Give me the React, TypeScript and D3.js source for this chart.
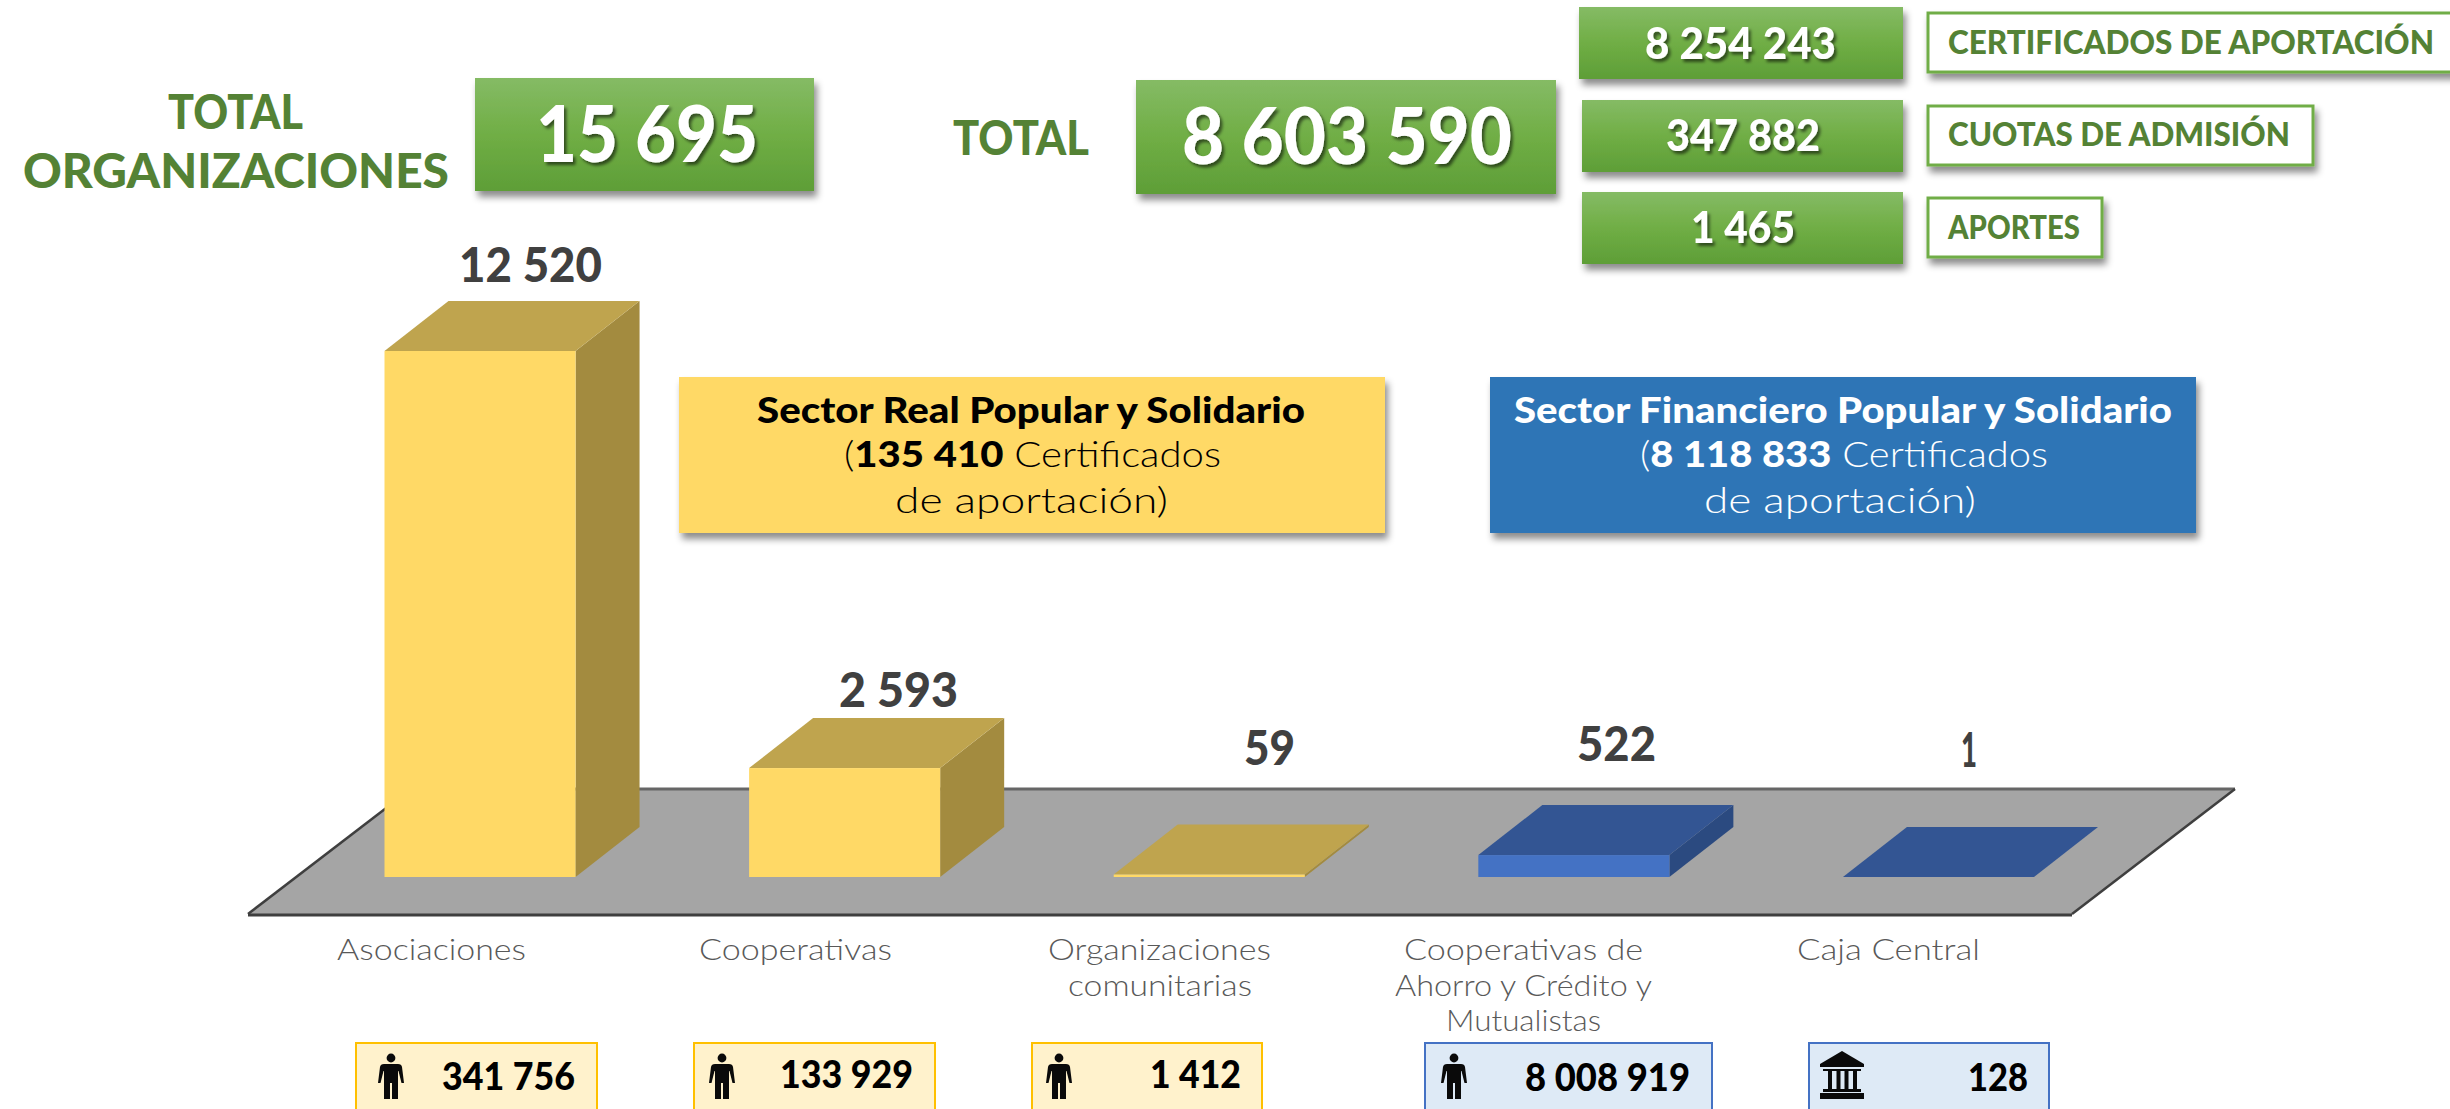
import React from "react";
import * as d3 from "d3";

// ---------- data ----------
const categories = ["Asociaciones", "Cooperativas", "Organizaciones comunitarias", "Cooperativas de Ahorro y Crédito y Mutualistas", "Caja Central"];
const orgCounts = [12520, 2593, 59, 522, 1];
const orgLabels = ["12 520", "2 593", "59", "522", "1"];
const sectors = ["real", "real", "real", "fin", "fin"];
const memberLabels = ["341 756", "133 929", "1 412", "8 008 919", "128"];
const memberIcons = ["person", "person", "person", "person", "bank"];
const categoryLines = [["Asociaciones"], ["Cooperativas"], ["Organizaciones", "comunitarias"], ["Cooperativas de", "Ahorro y Crédito y", "Mutualistas"], ["Caja Central"]];
const totals = ["15 695", "8 603 590"];
const breakdownValues = ["8 254 243", "347 882", "1 465"];
const breakdownNames = ["CERTIFICADOS DE APORTACIÓN", "CUOTAS DE ADMISIÓN", "APORTES"];

// ---------- layout ----------
const W = 2450, H = 1109;
const FONT = "Lato, 'Open Sans', sans-serif";
const x = d3.scaleBand<string>().domain(categories).range([384.5, 2034]).paddingInner(0.476).paddingOuter(0);
const y = d3.scaleLinear().domain([0, 12520]).range([877, 351]);
const DX = 64, DY = -50;
const palette: any = {
  real: { front: "#FFD966", top: "#BFA44E", side: "#A38B3F" },
  fin: { front: "#4472C4", top: "#335593", side: "#2B4A80" },
};
const valueExt = [[459, 602, 282], [839, 958, 707], [1244, 1295, 765], [1577, 1656, 761], [1961, 1977, 767]];
const catExt = [
  [[337, 526, 960]], [[699, 892, 960]],
  [[1048, 1271, 960], [1068, 1252, 996]],
  [[1404, 1643, 960], [1395, 1652, 996], [1446, 1601, 1031]],
  [[1797, 1980, 960]],
];
const pillExt = [[356, 597], [694, 935], [1032, 1262], [1425, 1712], [1809, 2049]];
const pillText = [[442, 575, 1090], [780, 913, 1088], [1150, 1241, 1088], [1525, 1690, 1091], [1968, 2028, 1091]];
const pillIcon = [391, 722, 1059, 1454, 1842];
const bdBox = [[1579, 1903, 7], [1582, 1903, 100], [1582, 1903, 192]];
const bdText = [[1645, 1836, 59], [1666, 1820, 151], [1691, 1795, 243]];
const bdName = [[1948, 2434, 54, 2458, 13], [1948, 2290, 146, 2313, 106], [1948, 2080, 239, 2102, 198]];
const bdNameLeft = 1928;

function T({ x0, x1, b, size, weight = 400, fill = "#404040", filter, children }: any) {
  return (
    <text x={x0} y={b} textLength={x1 - x0} lengthAdjust="spacingAndGlyphs" fontFamily={FONT}
      fontSize={size} fontWeight={weight} fill={fill} filter={filter}>{children}</text>
  );
}

function Person({ cx }: any) {
  return (
    <g transform={`translate(${cx},1053)`} fill="#0a0a0a">
      <circle cx={0} cy={5} r={4.4} />
      <path d="M-7 11 H7 Q10.5 11 11 14 L13 30 H10.5 L7.5 18 H7 V46 H1 V30 H-1 V46 H-7 V18 H-7.5 L-10.5 30 H-13 L-11 14 Q-10.5 11 -7 11Z" />
    </g>
  );
}

function Bank({ cx }: any) {
  const cols = [-14, -5.5, 2.5, 11];
  return (
    <g transform={`translate(${cx},1051)`} fill="#0a0a0a">
      <path d="M0 0 L22 13 V16 H-22 V13Z" />
      {cols.map((c) => <rect key={c} x={c} y={19} width={4} height={19} />)}
      <rect x={-19} y={18} width={38} height={2} />
      <rect x={-19} y={38} width={38} height={3} />
      <rect x={-22} y={42} width={44} height={6} />
    </g>
  );
}

const pts = (a: number[][]) => a.map((p) => p.join(",")).join(" ");

export default function App() {
  const bw = x.bandwidth();
  return (
    <svg width={W} height={H} viewBox={`0 0 ${W} ${H}`} style={{ position: "absolute", left: 0, top: 0, background: "#fff" }}>
      <defs>
        <linearGradient id="g" x1="0" y1="0" x2="0" y2="1">
          <stop offset="0" stopColor="#85BB65" />
          <stop offset="0.5" stopColor="#70AE45" />
          <stop offset="1" stopColor="#5E9E37" />
        </linearGradient>
        <filter id="sh" x="-10%" y="-20%" width="125%" height="150%">
          <feDropShadow dx={3} dy={6} stdDeviation={3.5} floodColor="#000" floodOpacity={0.45} />
        </filter>
        <filter id="ts" x="-10%" y="-20%" width="125%" height="150%">
          <feDropShadow dx={2.5} dy={3} stdDeviation={1.5} floodColor="#000" floodOpacity={0.55} />
        </filter>
      </defs>

      {/* headline */}
      <T x0={168} x1={303} b={129} size={48} weight={900} fill="#548235">TOTAL</T>
      <T x0={23} x1={449} b={188} size={48} weight={900} fill="#548235">ORGANIZACIONES</T>
      <rect x={475} y={78} width={339} height={113} fill="url(#g)" filter="url(#sh)" />
      <T x0={536} x1={758} b={162} size={78} weight={900} fill="#fff" filter="url(#ts)">{totals[0]}</T>
      <T x0={953} x1={1089} b={155} size={48} weight={900} fill="#548235">TOTAL</T>
      <rect x={1136} y={80} width={420} height={114} fill="url(#g)" filter="url(#sh)" />
      <T x0={1182} x1={1512} b={164} size={78} weight={900} fill="#fff" filter="url(#ts)">{totals[1]}</T>

      {/* breakdown */}
      {breakdownValues.map((v, i) => (
        <g key={v}>
          <rect x={bdBox[i][0]} y={bdBox[i][2]} width={bdBox[i][1] - bdBox[i][0]} height={72} fill="url(#g)" filter="url(#sh)" />
          <T x0={bdText[i][0]} x1={bdText[i][1]} b={bdText[i][2]} size={44} weight={900} fill="#fff" filter="url(#ts)">{v}</T>
          <rect x={bdNameLeft} y={bdName[i][4]} width={bdName[i][3] - bdNameLeft} height={59} fill="#fff" stroke="#70AD47" strokeWidth={3} filter="url(#sh)" />
          <T x0={bdName[i][0]} x1={bdName[i][1]} b={bdName[i][2]} size={32} weight={900} fill="#548235">{breakdownNames[i]}</T>
        </g>
      ))}

      {/* floor */}
      <polygon points={pts([[411, 789], [2235, 789], [2072, 914], [248, 914]])} fill="#A5A5A5" />
      <line x1={411} y1={789} x2={2235} y2={789} stroke="#666" strokeWidth={3} />
      <line x1={248} y1={915} x2={2072} y2={915} stroke="#3f3f3f" strokeWidth={3} />
      <line x1={248} y1={914} x2={411} y2={789} stroke="#3f3f3f" strokeWidth={2.5} />
      <line x1={2072} y1={914} x2={2235} y2={789} stroke="#3f3f3f" strokeWidth={2.5} />

      {/* bars */}
      {categories.map((c, i) => {
        const l = x(c) as number, r = l + bw, b = y(0), t = y(orgCounts[i]);
        const col = palette[sectors[i]];
        return (
          <g key={c}>
            <polygon points={pts([[r, b], [r + DX, b + DY], [r + DX, t + DY], [r, t]])} fill={col.side} />
            <polygon points={pts([[l, t], [r, t], [r + DX, t + DY], [l + DX, t + DY]])} fill={col.top} />
            <rect x={l} y={t} width={bw} height={b - t} fill={col.front} />
          </g>
        );
      })}

      {/* value labels */}
      {orgLabels.map((v, i) => (
        <T key={i} x0={valueExt[i][0]} x1={valueExt[i][1]} b={valueExt[i][2]} size={48} weight={900}>{v}</T>
      ))}

      {/* sector boxes */}
      <rect x={679} y={377} width={706} height={156} fill="#FFD966" filter="url(#sh)" />
      <T x0={757} x1={1305} b={423} size={36} weight={900} fill="#000">Sector Real Popular y Solidario</T>
      <T x0={844} x1={1221} b={467} size={36} weight={300} fill="#000">(<tspan fontWeight={900}>135 410</tspan> Certificados</T>
      <T x0={895} x1={1168} b={513} size={36} weight={300} fill="#000">de aportación)</T>
      <rect x={1490} y={377} width={706} height={156} fill="#2E75B6" filter="url(#sh)" />
      <T x0={1514} x1={2172} b={423} size={36} weight={900} fill="#fff">Sector Financiero Popular y Solidario</T>
      <T x0={1640} x1={2048} b={467} size={36} weight={300} fill="#fff">(<tspan fontWeight={900}>8 118 833</tspan> Certificados</T>
      <T x0={1704} x1={1976} b={513} size={36} weight={300} fill="#fff">de aportación)</T>

      {/* category labels */}
      {categoryLines.map((lines, i) => lines.map((ln, j) => (
        <T key={ln} x0={catExt[i][j][0]} x1={catExt[i][j][1]} b={catExt[i][j][2]} size={30} weight={300} fill="#595959">{ln}</T>
      )))}

      {/* member pills */}
      {memberLabels.map((v, i) => {
        const real = sectors[i] === "real";
        return (
          <g key={v}>
            <rect x={pillExt[i][0]} y={1043} width={pillExt[i][1] - pillExt[i][0]} height={70}
              fill={real ? "#FFF2CC" : "#DEEAF6"} stroke={real ? "#FFC000" : "#4472C4"} strokeWidth={2} />
            {memberIcons[i] === "bank" ? <Bank cx={pillIcon[i]} /> : <Person cx={pillIcon[i]} />}
            <T x0={pillText[i][0]} x1={pillText[i][1]} b={pillText[i][2]} size={38} weight={900} fill="#000">{v}</T>
          </g>
        );
      })}
    </svg>
  );
}
